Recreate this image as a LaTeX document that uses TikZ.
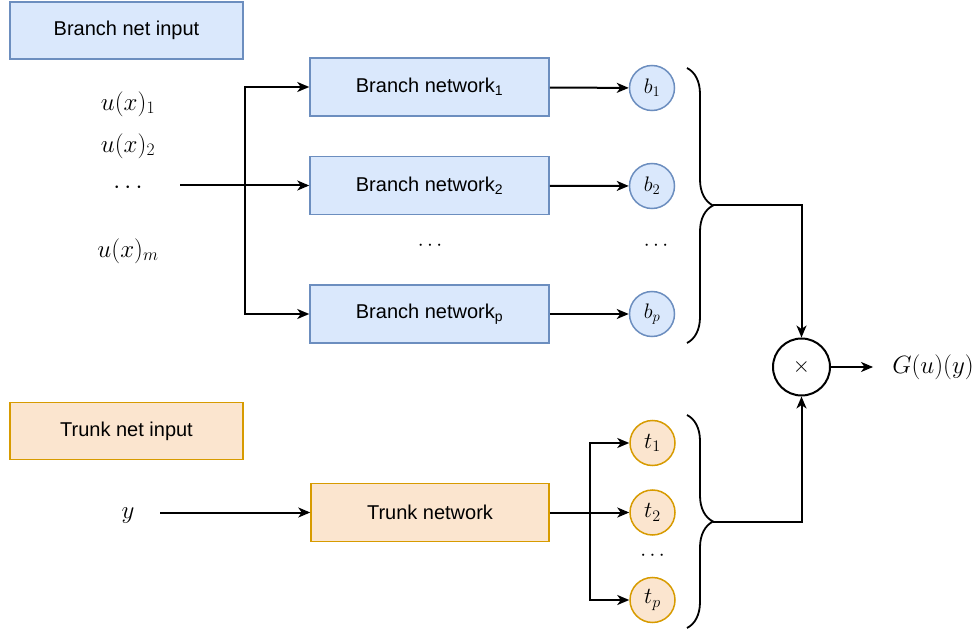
\RequirePackage{fix-cm}
\documentclass[tikz,border=0pt]{standalone}
\usepackage{fontspec}
\setsansfont{Liberation Sans}
\usetikzlibrary{arrows.meta,decorations.pathreplacing}
\definecolor{bluefill}{HTML}{DAE8FC}
\definecolor{bluedraw}{HTML}{6C8EBF}
\definecolor{orangefill}{HTML}{FBE5CF}
\definecolor{orangedraw}{HTML}{D79B00}
\tikzset{
  sanslabel/.style={font=\sffamily\fontsize{20}{24}\selectfont},
  mathlabel/.style={font=\fontsize{25}{29}\selectfont, inner sep=0pt},
  dotslabel/.style={font=\fontsize{21}{25}\selectfont, inner sep=0pt},
  bluebox/.style={draw=bluedraw, fill=bluefill, line width=1.5pt, sanslabel},
  orangebox/.style={draw=orangedraw, fill=orangefill, line width=1.5pt, sanslabel},
  netbox/.style={minimum width=239pt, minimum height=58pt},
  inbox/.style={minimum width=233pt, minimum height=57pt},
  bnode/.style={circle, draw=bluedraw, fill=bluefill, line width=1.5pt,
    minimum size=45pt, inner sep=0pt, font=\fontsize{21}{25}\selectfont},
  tnode/.style={circle, draw=orangedraw, fill=orangefill, line width=1.5pt,
    minimum size=45pt, inner sep=0pt, font=\fontsize{23}{27}\selectfont},
  arr/.style={-{Stealth[length=12pt,width=10pt,inset=3.5pt]}, line width=2pt},
  plainline/.style={line width=2pt},
  bracestyle/.style={line width=1.8pt, decorate, decoration={brace, amplitude=26pt}},
}
\begin{document}
\begin{tikzpicture}[x=1pt, y=-1pt]
\useasboundingbox (0,0) rectangle (975,631);

% input labels
\node[bluebox, inbox] (bin) at (126.5,30.5) {Branch net input};
\node[orangebox, inbox] (tin) at (126.5,431) {Trunk net input};

% branch inputs
\node[mathlabel] (u1) at (128,104) {$u(x)_1$};
\node[mathlabel] (u2) at (128,146) {$u(x)_2$};
\node[mathlabel] (ud) at (128,188) {$\cdots$};
\node[mathlabel] (um) at (128,251) {$u(x)_m$};
\coordinate (bsrc) at (180,185.5);
\coordinate (bjoin) at (245,185.5);

% branch networks
\node[bluebox, netbox] (bn1) at (429.5,87) {Branch network\textsubscript{1}};
\node[bluebox, netbox] (bn2) at (429.5,185.5) {Branch network\textsubscript{2}};
\node[bluebox, netbox] (bnp) at (429.5,314) {Branch network\textsubscript{p}};
\node[dotslabel] (bnd) at (430,246) {$\cdots$};

% branch outputs
\node[bnode] (b1) at (652,88) {$b_1$};
\node[bnode] (b2) at (652,186) {$b_2$};
\node[bnode] (bp) at (652,314) {$b_p$};
\node[dotslabel] (bd) at (656,246) {$\cdots$};

% trunk
\node[mathlabel] (yv) at (128,516) {$y$};
\coordinate (ysrc) at (160,512.5);
\node[orangebox, netbox, minimum width=238pt] (tn) at (430,512.5) {Trunk network};
\coordinate (tjoin) at (590,512.5);
\node[tnode] (t1) at (652.5,443) {$t_1$};
\node[tnode] (t2) at (652.5,512.5) {$t_2$};
\node[tnode] (tp) at (652.5,600) {$t_p$};
\node[dotslabel] (td) at (652.5,556) {$\cdots$};

% braces
\draw[bracestyle] (687,68) -- (687,343);
\coordinate (bt1) at (713,205.5);
\draw[bracestyle] (687,415) -- (687,628);
\coordinate (bt2) at (713,521.5);

% product and output
\node[circle, draw, line width=2pt, fill=white, minimum size=57pt, inner sep=0pt,
  font=\fontsize{22}{26}\selectfont] (mul) at (801.5,367) {$\times$};
\node[mathlabel, inner xsep=19pt] (gout) at (933,367) {$G(u)(y)$};

% connectors
\draw[arr] (bsrc) -- (bn2.west);
\draw[arr] (bjoin) |- (bn1.west);
\draw[arr] (bjoin) |- (bnp.west);
\draw[arr] (bn1) -- (b1);
\draw[arr] (bn2) -- (b2);
\draw[arr] (bnp) -- (bp);
\draw[arr] (ysrc) -- (tn.west);
\draw[plainline] (tn.east) -- (tjoin);
\draw[arr] (tjoin) |- (t1.west);
\draw[arr] (tjoin) -- (t2.west);
\draw[arr] (tjoin) |- (tp.west);
\draw[arr] (bt1) -| (mul.north);
\draw[arr] (bt2) -| (mul.south);
\draw[arr] (mul) -- (gout);
\end{tikzpicture}
\end{document}
